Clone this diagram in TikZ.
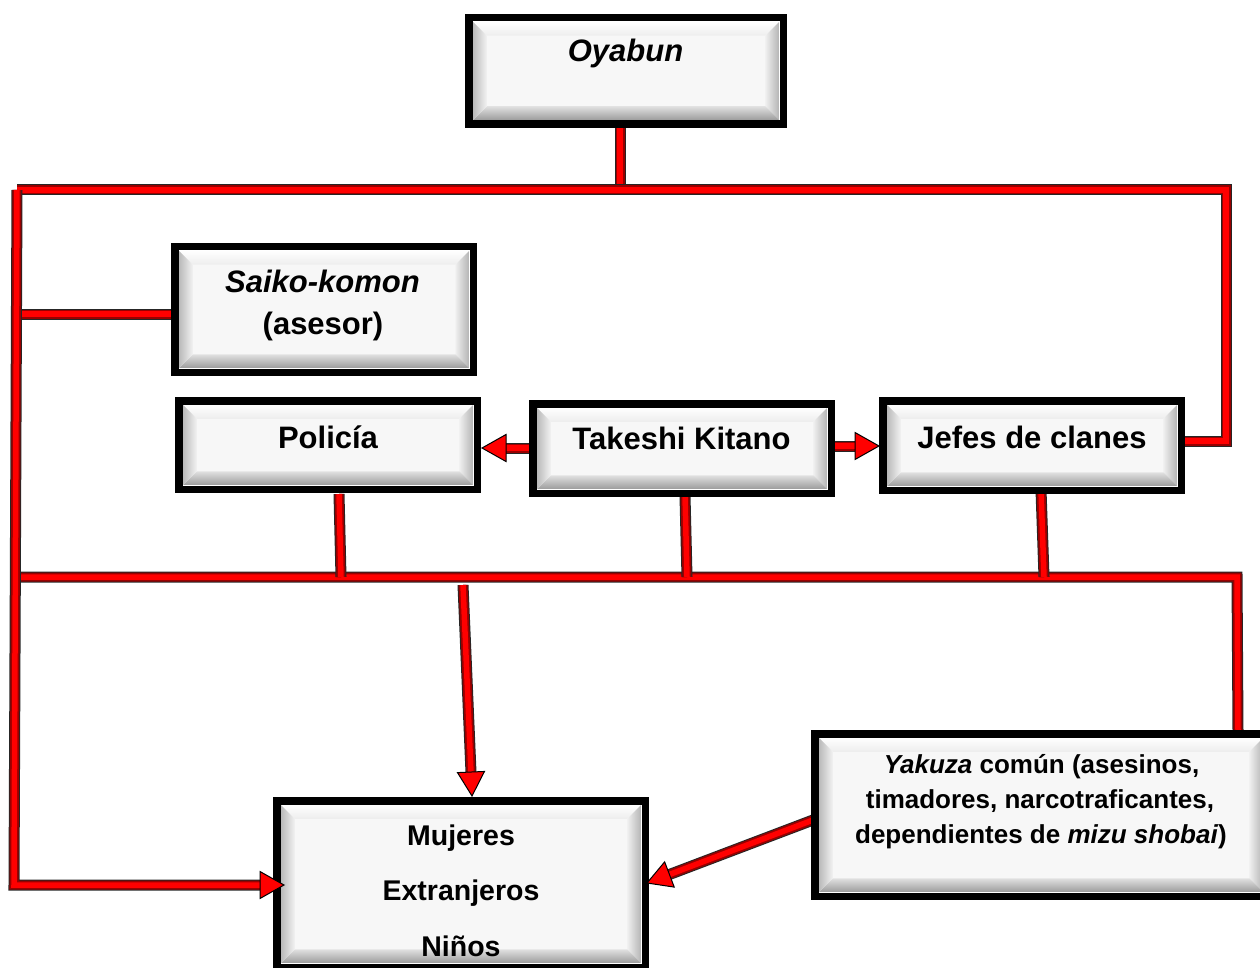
\documentclass[tikz,border=0pt]{standalone}
\usepackage{fontspec}
\setmainfont{Liberation Sans}
\usetikzlibrary{calc}
\pgfdeclarelayer{bg}
\pgfsetlayers{bg,main}
\def\bi{3.75pt}
\def\bb{18pt}
\tikzset{
  box/.style={rectangle, draw=black, line width=7.5pt, fill=black!3, inner sep=0pt,
    path picture={
      \coordinate (iNW) at ([xshift=\bi,yshift=-\bi]path picture bounding box.north west);
      \coordinate (iNE) at ([xshift=-\bi,yshift=-\bi]path picture bounding box.north east);
      \coordinate (iSW) at ([xshift=\bi,yshift=\bi]path picture bounding box.south west);
      \coordinate (iSE) at ([xshift=-\bi,yshift=\bi]path picture bounding box.south east);
      \coordinate (bNW) at ([xshift=\bb,yshift=-\bb]path picture bounding box.north west);
      \coordinate (bNE) at ([xshift=-\bb,yshift=-\bb]path picture bounding box.north east);
      \coordinate (bSW) at ([xshift=\bb,yshift=\bb]path picture bounding box.south west);
      \coordinate (bSE) at ([xshift=-\bb,yshift=\bb]path picture bounding box.south east);
      \shade[top color=white, bottom color=black!7] (iNW) -- (iNE) -- (bNE) -- (bNW) -- cycle;
      \shade[left color=black!6, right color=black!30] (iNE) -- (iSE) -- (bSE) -- (bNE) -- cycle;
      \shade[top color=black!12, bottom color=black!40] (iSE) -- (iSW) -- (bSW) -- (bSE) -- cycle;
      \shade[left color=black!28, right color=black!5] (iSW) -- (iNW) -- (bNW) -- (bSW) -- cycle;
      \draw[white, line width=1.5pt] (iNW) rectangle (iSE);
    }},
  lbl/.style={font=\bfseries\fontsize{31}{37}\selectfont, anchor=base, inner sep=0pt},
  lblm/.style={font=\bfseries\fontsize{28.5}{34}\selectfont, anchor=base, inner sep=0pt},
  lbly/.style={font=\bfseries\fontsize{26}{32}\selectfont, anchor=base, inner sep=0pt},
  barO/.style={line width=11pt, draw=black!85},
  barM/.style={line width=9pt, draw=red!60!black},
  barI/.style={line width=5.5pt, draw=red},
  head/.style={fill=red, draw=black, line width=1pt, line join=miter},
}
\newcommand\redbar[1]{%
  \begin{pgfonlayer}{bg}
  \draw[barO] #1; \draw[barM] #1; \draw[barI] #1;
  \end{pgfonlayer}}
\newcommand\redarrow[3]{%
  \coordinate (hb) at ($(#3)!24pt!(#2)$);
  \redbar{#1 -- (hb)}
  \filldraw[head] ($(hb)!13.5pt!90:(#3)$) -- (#3) -- ($(hb)!13.5pt!-90:(#3)$) -- cycle;}
\begin{document}
\begin{tikzpicture}[x=1pt, y=-1pt]
\useasboundingbox (0,0) rectangle (1260,968);
% boxes
\node[box, minimum width=314.5pt, minimum height=106.5pt] (oyabun) at (626,71) {};
\node[box, minimum width=298.5pt, minimum height=125.5pt] (saiko) at (324,309.5) {};
\node[box, minimum width=298.5pt, minimum height=88.5pt] (policia) at (328,445) {};
\node[box, minimum width=298.5pt, minimum height=89.5pt] (takeshi) at (682,448.5) {};
\node[box, minimum width=298.5pt, minimum height=89.5pt] (jefes) at (1032,445.5) {};
\node[box, minimum width=368.5pt, minimum height=166.5pt] (mujeres) at (461,884) {};
\node[box, minimum width=452.5pt, minimum height=162.5pt] (yakuza) at (1041,815) {};
% texts
\node[lbl] (t1) at (625.5,62) {\itshape Oyabun};
\node[lbl] (t2) at (322.5,292) {\itshape Saiko-komon};
\node[lbl] (t3) at (323,334) {(asesor)};
\node[lbl] (t4) at (328,448) {Policía};
\node[lbl] (t5) at (681.5,449) {Takeshi Kitano};
\node[lbl] (t6) at (1032,448) {Jefes de clanes};
\node[lblm] (t7) at (461,845) {Mujeres};
\node[lblm] (t8) at (461,900) {Extranjeros};
\node[lblm] (t9) at (461,956) {Niños};
\node[lbly] (t10) at (1041.5,773) {\textit{Yakuza} común (asesinos,};
\node[lbly] (t11) at (1040,808) {timadores, narcotraficantes,};
\node[lbly] (t12) at (1041,843) {dependientes de \textit{mizu shobai})};
% junction coordinates
\coordinate (jTop) at (620,190);
\coordinate (tl) at (17,190);
\coordinate (tr) at (1226,190);
\coordinate (rj) at (1226,441);
\coordinate (ls) at (17,314);
\coordinate (ml) at (15,577);
\coordinate (mr) at (1237,577);
\coordinate (ykt) at (1238,732);
\coordinate (bl) at (14,885);
\coordinate (pt) at (339,494);
\coordinate (pj) at (341,577);
\coordinate (tt) at (685,496);
\coordinate (tj) at (687,577);
\coordinate (jt) at (1041,490);
\coordinate (jj) at (1044,577);
\coordinate (ds) at (463,585);
\coordinate (dtip) at (472,796);
\coordinate (ltip) at (284,885);
\coordinate (ys) at (813,820);
\coordinate (ytip) at (647,883);
\coordinate (tps) at (531,448);
\coordinate (ptip) at (482,448);
\coordinate (tjs) at (833,446);
\coordinate (jtip) at (879,446);
% bars
\redbar{(jTop |- oyabun.south) -- (jTop)}
\redbar{(tl) -- (tr) -- (rj) -- (rj -| jefes.east)}
\redbar{(ls) -- (ls -| saiko.west)}
\redbar{(ml) -- (mr) -- (ykt)}
\redbar{(pt) -- (pj)}
\redbar{(tt) -- (tj)}
\redbar{(jt) -- (jj)}
% arrows
\redarrow{(tl) -- (bl)}{bl}{ltip}
\redarrow{(ds)}{ds}{dtip}
\redarrow{(ys)}{ys}{ytip}
\redarrow{(tps)}{tps}{ptip}
\redarrow{(tjs)}{tjs}{jtip}
\end{tikzpicture}
\end{document}
